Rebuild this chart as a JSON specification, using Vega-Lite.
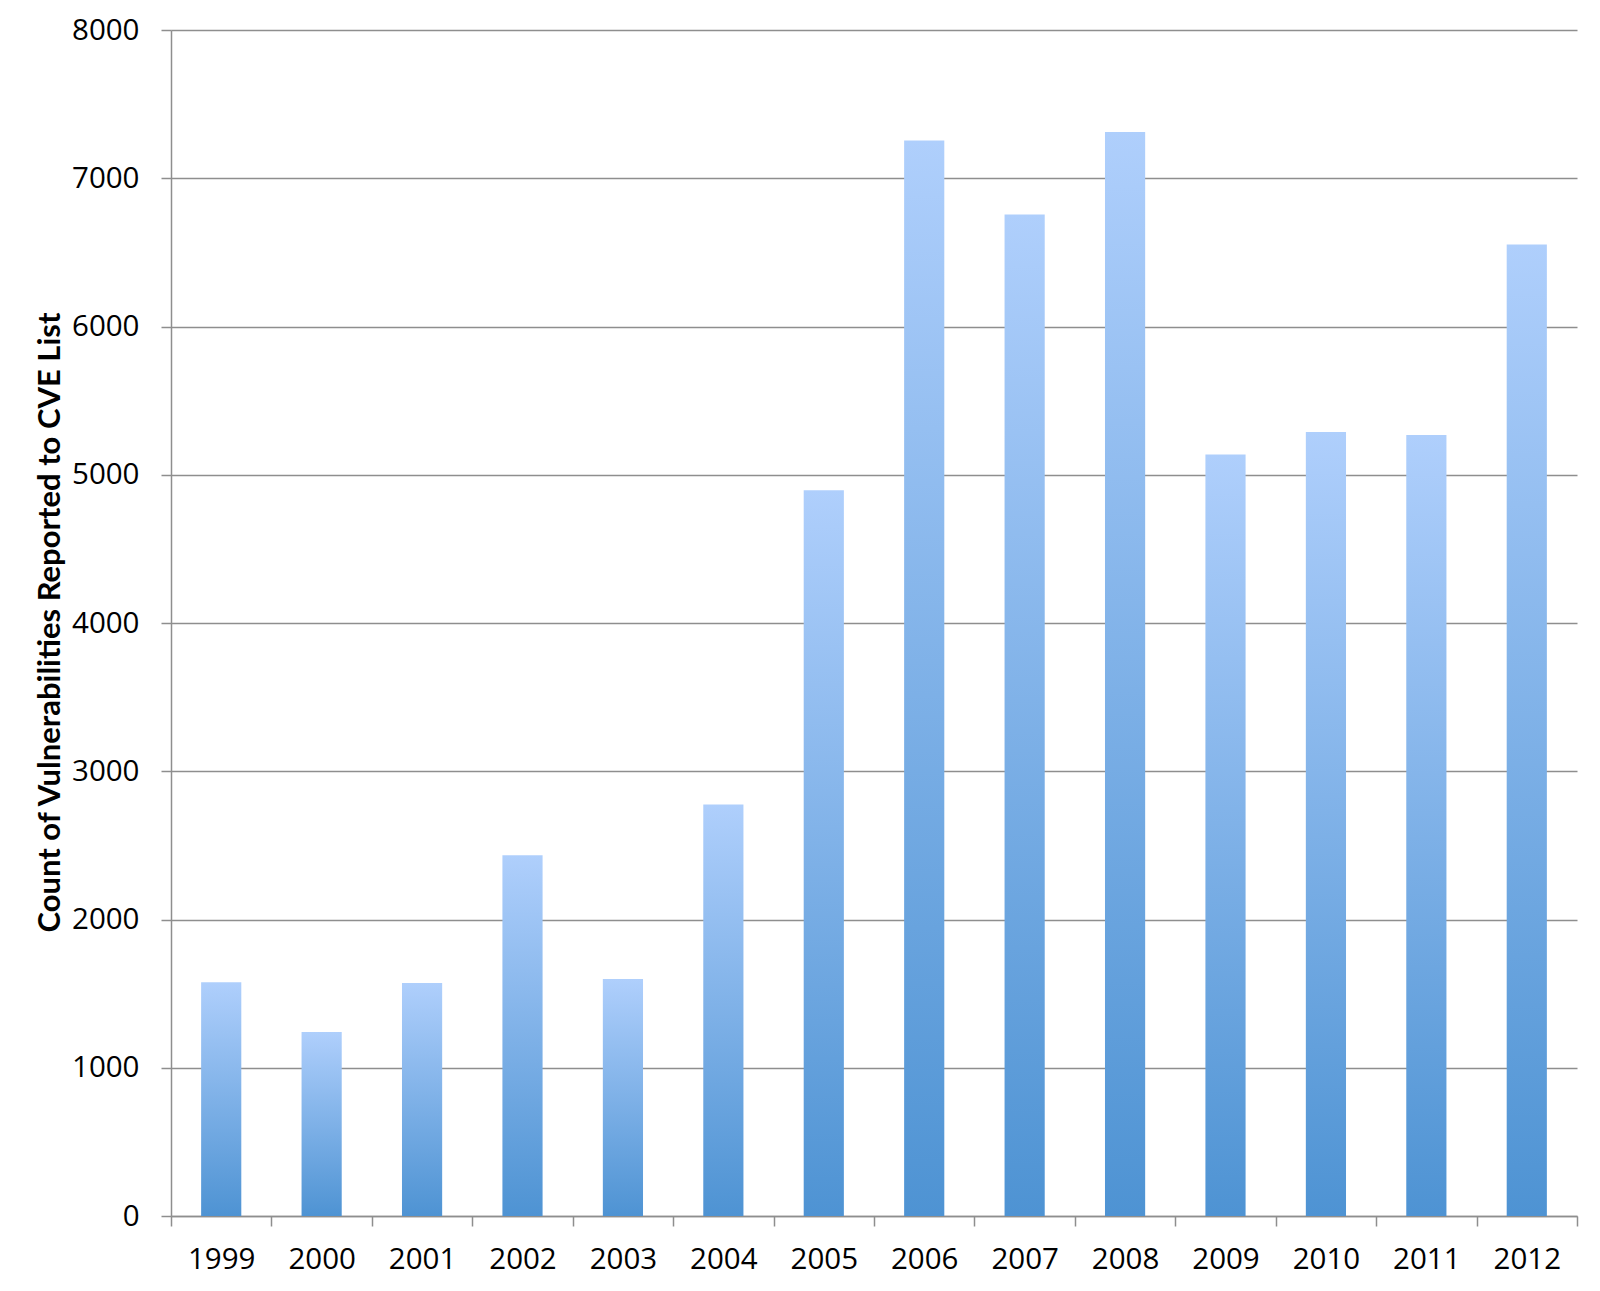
{
  "$schema": "https://vega.github.io/schema/vega-lite/v6.json",
  "autosize": {"type": "none"},
  "width": 1406,
  "height": 1186,
  "padding": {"left": 171, "top": 30, "right": 23, "bottom": 75},
  "background": "white",
  "data": {
    "values": [
      {"year": "1999", "count": 1577},
      {"year": "2000", "count": 1241},
      {"year": "2001", "count": 1571},
      {"year": "2002", "count": 2434},
      {"year": "2003", "count": 1598},
      {"year": "2004", "count": 2775},
      {"year": "2005", "count": 4895},
      {"year": "2006", "count": 7254},
      {"year": "2007", "count": 6755},
      {"year": "2008", "count": 7312},
      {"year": "2009", "count": 5136},
      {"year": "2010", "count": 5288},
      {"year": "2011", "count": 5268},
      {"year": "2012", "count": 6553}
    ]
  },
  "mark": {
    "type": "bar",
    "width": {"band": 0.4},
    "color": {
      "gradient": "linear",
      "x1": 0, "y1": 0, "x2": 0, "y2": 1,
      "stops": [
        {"offset": 0, "color": "#afcffc"},
        {"offset": 1, "color": "#4e93d3"}
      ]
    }
  },
  "encoding": {
    "x": {
      "field": "year",
      "type": "ordinal",
      "scale": {"paddingInner": 0, "paddingOuter": 0},
      "axis": {
        "title": null,
        "labelAngle": 0,
        "tickBand": "extent",
        "tickSize": 10,
        "labelPadding": 19,
        "grid": false
      }
    },
    "y": {
      "field": "count",
      "type": "quantitative",
      "scale": {"domain": [0, 8000], "nice": false},
      "axis": {
        "title": "Count of Vulnerabilities Reported to CVE List",
        "values": [0, 1000, 2000, 3000, 4000, 5000, 6000, 7000, 8000],
        "format": "d",
        "tickSize": 10,
        "labelPadding": 22,
        "titleX": -121,
        "titleY": 592,
        "titleAngle": -90,
        "titleAlign": "center",
        "titleBaseline": "middle",
        "titleFontWeight": "bold",
        "titleFontSize": 31
      }
    }
  },
  "config": {
    "view": {"stroke": null},
    "axis": {
      "labelFont": "Open Sans",
      "titleFont": "Lato",
      "labelFontSize": 29.5,
      "labelColor": "#000000",
      "titleColor": "#000000",
      "domainColor": "#8e8e8e",
      "domainWidth": 1.5,
      "tickColor": "#8e8e8e",
      "tickWidth": 1.5,
      "gridColor": "#8e8e8e",
      "gridWidth": 1.5,
      "gridOpacity": 1
    }
  }
}
